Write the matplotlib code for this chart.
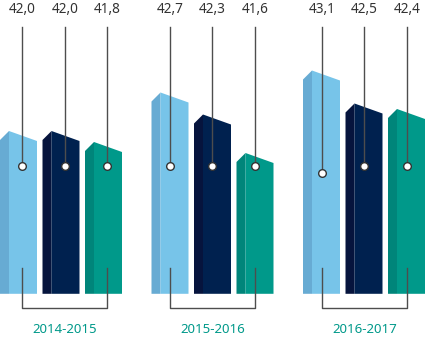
import matplotlib.pyplot as plt
from matplotlib.patches import Polygon

plt.rcParams['font.family'] = ['Noto Sans', 'DejaVu Sans']

# data
groups = ['2014-2015', '2015-2016', '2016-2017']
values = [
    [42.0, 42.0, 41.8],
    [42.7, 42.3, 41.6],
    [43.1, 42.5, 42.4],
]
value_labels = [['42,0', '42,0', '41,8'],
                ['42,7', '42,3', '41,6'],
                ['43,1', '42,5', '42,4']]

front_colors = ['#77c4e9', '#00214f', '#00998a']
side_colors = ['#67abd3', '#06143d', '#00857a']

# layout (x in pixels, y in value units)
PX = 55.0              # pixels per value unit
BASE = 39.04
GROUP_STEP = 151.5
BAR_STEP = 42.5
BAR_W = 37
SIDE_W = 9
TOP_Y = 42 + 131 / PX
BOT_Y = 42 - 227 / PX


def py(p):
    # pixel row -> value units
    return 42 - (p - 131) / PX


dot_rows = [[166, 166, 166], [166, 166, 166], [173, 166, 166]]
line_offsets = [22.5, 18.5, 19]   # leader line position from bar left edge

fig = plt.figure(figsize=(4.25, 3.58), dpi=100)
ax = fig.add_axes([0, 0, 1, 1])
ax.set_xlim(0, 425)
ax.set_ylim(BOT_Y, TOP_Y)
ax.axis('off')

line_c = '#4d4d4d'

for g, name in enumerate(groups):
    centers = []
    for b, v in enumerate(values[g]):
        x0 = g * GROUP_STEP + b * BAR_STEP
        xs = x0 + SIDE_W
        x1 = x0 + BAR_W
        # side strip
        ax.add_patch(Polygon([(x0, BASE), (x0, v - SIDE_W / PX), (xs, v), (xs, BASE)],
                             closed=True, fc=side_colors[b], ec='none'))
        # front face with slanted top
        ax.add_patch(Polygon([(xs, BASE), (xs, v), (x1, v - 10 / PX), (x1, BASE)],
                             closed=True, fc=front_colors[b], ec='none'))
        cx = x0 + line_offsets[g]
        centers.append(cx)
        dy = py(dot_rows[g][b])
        ax.plot([cx, cx], [py(27), dy], color=line_c, lw=1.0, zorder=3)
        ax.plot(cx, dy, 'o', ms=5.5, mfc='white', mec='#333333', mew=1.0, zorder=4)
        ax.text(cx, py(9), value_labels[g][b], ha='center', va='center',
                fontsize=9.8, color='#333333')
    # bracket below
    l, r = centers[0], centers[2]
    ax.plot([l, l, r, r], [py(268), py(308), py(308), py(268)], color=line_c, lw=1.0, zorder=3)
    ax.text((l + r) / 2, py(329), name, ha='center', va='center',
            fontsize=9.5, color='#00998a')

plt.savefig('out.png', dpi=100)
